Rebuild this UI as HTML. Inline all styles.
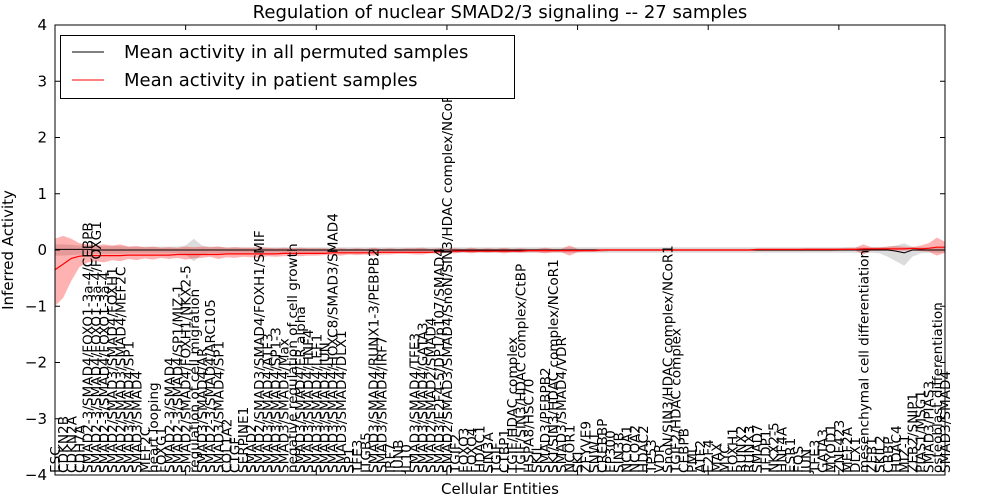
<!DOCTYPE html>
<html><head><meta charset="utf-8"><style>
body{margin:0;background:#fff;}
svg{display:block;font-family:"DejaVu Sans","Liberation Sans",sans-serif;}
</style></head><body>
<svg id="chart" width="1000" height="500" viewBox="0 0 1000 500">
<text x="500" y="18" font-size="18" text-anchor="middle">Regulation of nuclear SMAD2/3 signaling -- 27 samples</text>
<text x="500" y="494" font-size="15" text-anchor="middle">Cellular Entities</text>
<text transform="translate(13,250) rotate(-90)" font-size="15" text-anchor="middle">Inferred Activity</text>
<g id="plot"></g>
</svg>
<script>
const entities=["ESC","CDKN2B","CDKN2A","CDH7A","SMAD2-3/SMAD4/FOXO1-3a-4/CEBPB","SMAD2-3/SMAD4/FOXO1-3a-4/FOXG1","SMAD2-3/SMAD4/FOXO1-3a-4","SMAD2/SMAD3/SMAD4/FOXH1","SMAD2/SMAD3/SMAD4/MEF2C","SMAD3/SMAD4/SP1",
"SMAD3/SMAD4","MEF2C","heart looping","FOXG1","SMAD2-3/SMAD4","SMAD2-3/SMAD4/SP1/MIZ-1","SMAD2/SMAD4/FOXH1/NKX2-5","regulation of cell migration","SMAD3/SMAD4/AR","SMAD2-3/SMAD4/ARC105",
"SMAD3/SMAD4/SP1","COL1A2","CTGF","SERPINE1","SMAD2","SMAD2/SMAD3/SMAD4/FOXH1/SMIF","SMAD3/SMAD4/ATF3","SMAD3/SMAD4/SP1-3","SMAD3/SMAD4/Max","negative regulation of cell growth",
"SMAD3/SMAD4/ER alpha","SMAD3/SMAD4/HNF4","SMAD3/SMAD4/LEF1","SMAD3/SMAD4/JUN","SMAD3/SMAD4/HOXC8/SMAD3/SMAD4","SMAD3/SMAD4/DLX1","SP1","TFE3","ITGB5","SMAD3/SMAD4/RUNX1-3/PEBPB2",
"SMAD3/SMAD4/IRF7","IRF7","JUNB","IL10","SMAD3/SMAD4/TFE3","SMAD3/SMAD4/GATA3","SMAD2/SMAD2/SMAD4","SMAD3/E2F4-5/DP1/p107/SMAD4","SMAD2/SMAD3/SMAD4/SnoN/SIN3/HDAC complex/NCoR1","TGIF2",
"FOXO3","FOXO4","HDAC1","SIN3A","TGIF","CTBP1","TGIF/HDAC complex","TGIF/SIN3/HDAC complex/CtBP","HSPA8/HSC70","SKIL",
"SMAD3/PEBPB2","SKI/SIN3/HDAC complex/NCoR1","SMAD3/SMAD4/VDR","NCOR1","SKI","ZFYVE9","SNW1","CREBBP","EP300","SIN3B",
"NCOA1","NCOA2","HDAC2","TP53","VDR","SnoN/SIN3/HDAC complex/NCoR1","TGIF2/HDAC complex","CEBPB","PML","ATF2",
"E2F4","MAX","MYC","FOXH1","RUNX2","RUNX3","SMAD7","TFDP1","NKX2-5","HNF4A",
"ESR1","FOS","JUN","TFE3","GATA3","MYOD1","ZNF423","MEF2A","DLX1","mesenchymal cell differentiation",
"ZEB1","SKIL2","CBBP","HDAC4","MIZ-1","ZEB2/SNIP1","PIAS1/MSG1","SMAD3/PIAS3","osteoblast differentiation","SMAD3/SMAD4"];
const blackMean=[0.01,0.01,0.01,0.01,0.01,0,0,0,0,0,0,0,0,0,0,0,0,0,0,0,0,0,0,0,0,0,0,0,0,0,0,0,0,0,0,0,0,0,0,0,0,0,0,0,0,0,0,0,0,0,0,0,0,0,0,0,0,0,0,0,0,0,0,0,0,0,0,0,0,0,0,0,0,0,0,0,0,0,0,0,0,0,0,0,0,0,0,0,0,0,0,0,0,0,0,0,0,0,0,0,0,0,0,-0.02,-0.05,0,0,0,0,0];
const redMean=[-0.35,-0.25,-0.15,-0.11,-0.1,-0.1,-0.1,-0.1,-0.1,-0.09,-0.09,-0.09,-0.09,-0.09,-0.09,-0.08,-0.08,-0.08,-0.08,-0.08,-0.08,-0.07,-0.07,-0.07,-0.07,-0.07,-0.07,-0.07,-0.06,-0.06,-0.06,-0.06,-0.06,-0.06,-0.05,-0.05,-0.05,-0.05,-0.05,-0.05,-0.04,-0.04,-0.04,-0.04,-0.04,-0.04,-0.04,-0.03,-0.03,-0.02,-0.02,-0.02,-0.02,-0.02,-0.02,-0.02,-0.02,-0.02,-0.01,-0.01,-0.01,-0.01,-0.01,-0.01,-0.01,-0.01,-0.01,0,0,0,0,0,0,0,0,0,0,0,0,0,0,0,0,0,0,0,0.01,0.01,0.01,0.01,0.01,0.01,0.01,0.01,0.01,0.01,0.01,0.01,0.01,0.02,0.02,0.02,0.02,0.02,0.02,0.03,0.02,0.03,0.05,0.05];
const redHi=[0.2,0.25,0.2,0.12,0.1,0.08,0.1,0.08,0.1,0.06,0.07,0.05,0.06,0.04,0.05,0.04,0.06,0.05,0.06,0.05,0.06,0.04,0.05,0.04,0.04,0.05,0.04,0.03,0.04,0.03,0.04,0.03,0.03,0.03,0.02,0.03,0.02,0.03,0.02,0.04,0.02,0.03,0.02,0.03,0.03,0.04,0.02,0.03,0.02,0.03,0.02,0.04,0.02,0.03,0.02,0.04,0.02,0.03,0.02,0.02,0.04,0.02,0.02,0.08,0.02,0.02,0.02,0.02,0.02,0.02,0.02,0.02,0.02,0.02,0.02,0.02,0.02,0.02,0.02,0.02,0.02,0.02,0.02,0.02,0.02,0.02,0.02,0.02,0.02,0.02,0.02,0.02,0.03,0.03,0.03,0.03,0.03,0.04,0.04,0.1,0.05,0.05,0.06,0.07,0.06,0.05,0.08,0.12,0.22,0.15];
const redLo=[-1.0,-0.85,-0.55,-0.3,-0.22,-0.2,-0.22,-0.18,-0.2,-0.16,-0.18,-0.15,-0.17,-0.14,-0.16,-0.14,-0.17,-0.15,-0.14,-0.12,-0.16,-0.13,-0.14,-0.12,-0.13,-0.14,-0.11,-0.12,-0.11,-0.1,-0.11,-0.1,-0.1,-0.09,-0.09,-0.1,-0.08,-0.09,-0.08,-0.1,-0.08,-0.08,-0.07,-0.07,-0.08,-0.08,-0.06,-0.07,-0.05,-0.06,-0.04,-0.06,-0.04,-0.05,-0.04,-0.06,-0.04,-0.05,-0.04,-0.04,-0.06,-0.04,-0.04,-0.1,-0.04,-0.03,-0.03,-0.03,-0.02,-0.02,-0.02,-0.02,-0.02,-0.02,-0.02,-0.02,-0.02,-0.02,-0.02,-0.02,-0.02,-0.02,-0.02,-0.02,-0.02,-0.02,-0.02,-0.02,-0.02,-0.02,-0.02,-0.02,-0.02,-0.02,-0.02,-0.02,-0.01,-0.01,-0.01,-0.08,-0.01,-0.01,-0.01,-0.01,-0.01,-0.01,-0.02,-0.03,-0.1,-0.05];
const grayHi=[0.1,0.1,0.09,0.08,0.08,0.07,0.07,0.07,0.07,0.06,0.06,0.06,0.06,0.06,0.06,0.06,0.08,0.2,0.08,0.06,0.06,0.05,0.05,0.05,0.05,0.05,0.05,0.05,0.05,0.05,0.05,0.05,0.05,0.05,0.05,0.05,0.05,0.05,0.05,0.05,0.05,0.05,0.05,0.05,0.05,0.05,0.05,0.05,0.05,0.05,0.05,0.05,0.05,0.05,0.05,0.05,0.05,0.05,0.05,0.05,0.05,0.05,0.05,0.05,0.05,0.05,0.05,0.05,0.05,0.05,0.05,0.05,0.05,0.05,0.05,0.05,0.05,0.05,0.05,0.05,0.05,0.05,0.05,0.05,0.05,0.05,0.05,0.05,0.05,0.05,0.05,0.05,0.05,0.05,0.05,0.05,0.05,0.05,0.05,0.05,0.05,0.05,0.06,0.08,0.12,0.06,0.05,0.05,0.05,0.05];
const grayLo=[-0.1,-0.1,-0.09,-0.08,-0.08,-0.07,-0.07,-0.07,-0.07,-0.06,-0.06,-0.06,-0.06,-0.06,-0.06,-0.06,-0.08,-0.2,-0.08,-0.06,-0.06,-0.05,-0.05,-0.05,-0.05,-0.05,-0.05,-0.05,-0.05,-0.05,-0.05,-0.05,-0.05,-0.05,-0.05,-0.05,-0.05,-0.05,-0.05,-0.05,-0.05,-0.05,-0.05,-0.05,-0.05,-0.05,-0.05,-0.05,-0.05,-0.05,-0.05,-0.05,-0.05,-0.05,-0.05,-0.05,-0.05,-0.05,-0.05,-0.05,-0.05,-0.05,-0.05,-0.05,-0.05,-0.05,-0.05,-0.05,-0.05,-0.05,-0.05,-0.05,-0.05,-0.05,-0.05,-0.05,-0.05,-0.05,-0.05,-0.05,-0.05,-0.05,-0.05,-0.05,-0.05,-0.05,-0.05,-0.05,-0.05,-0.05,-0.05,-0.05,-0.05,-0.05,-0.05,-0.05,-0.05,-0.05,-0.05,-0.05,-0.05,-0.06,-0.12,-0.2,-0.28,-0.12,-0.06,-0.05,-0.05,-0.05];
const yTicks=[4,3,2,1,0,-1,-2,-3,-4];

const L=55,R=945,T=25,B=475,NS="http://www.w3.org/2000/svg";
const n=entities.length;
const xs=i=>L+i*(R-L)/(n-1);
const ys=v=>T+(4-v)*(B-T)/8;
const g=document.getElementById('plot');
function mk(tag,attrs,parent){const e=document.createElementNS(NS,tag);for(const k in attrs)e.setAttribute(k,attrs[k]);(parent||g).appendChild(e);return e;}
function band(hi,lo){let d='';for(let i=0;i<n;i++)d+=(i?'L':'M')+xs(i).toFixed(1)+','+ys(hi[i]).toFixed(1);for(let i=n-1;i>=0;i--)d+='L'+xs(i).toFixed(1)+','+ys(lo[i]).toFixed(1);return d+'Z';}
function line(a){let d='';for(let i=0;i<n;i++)d+=(i?'L':'M')+xs(i).toFixed(1)+','+ys(a[i]).toFixed(1);return d;}

const gb=mk('path',{d:band(grayHi,grayLo),fill:'rgba(128,128,128,0.28)',stroke:'none'});


const rb=mk('path',{d:band(redHi,redLo),fill:'rgba(255,0,0,0.3)',stroke:'none'});


const bl=mk('path',{d:line(blackMean),fill:'none',stroke:'#000','stroke-width':1});


const rl=mk('path',{d:line(redMean),fill:'none',stroke:'#f00','stroke-width':1.2});



for(let i=0;i<n;i++){
  const t=mk('text',{transform:`translate(${(xs(i)+5).toFixed(1)},${B-2}) rotate(-90)`,'font-size':13.6});
  t.textContent=entities[i];
  
  
}
const fr=mk('rect',{x:L,y:T,width:R-L,height:B-T,fill:'none',stroke:'#000','stroke-width':1});


yTicks.forEach(v=>{
  mk('line',{x1:L,x2:L+5,y1:ys(v),y2:ys(v),stroke:'#000'});
  mk('line',{x1:R,x2:R-5,y1:ys(v),y2:ys(v),stroke:'#000'});
  const t=mk('text',{x:L-8,y:ys(v)+5,'font-size':15,'text-anchor':'end'});
  t.textContent=String(v).replace('-','\u2212');
  
  
});
for(let i=0;i<n;i+=16){mk('line',{x1:xs(i),x2:xs(i),y1:T,y2:T+5,stroke:'#000'});mk('line',{x1:xs(i),x2:xs(i),y1:B,y2:B-5,stroke:'#000'});}
const lg=mk('g',{});


mk('rect',{x:60.5,y:35.5,width:454,height:63,fill:'#fff',stroke:'#000'},lg);
mk('line',{x1:72,x2:104,y1:52,y2:52,stroke:'#000'},lg);
mk('line',{x1:72,x2:104,y1:80,y2:80,stroke:'#f00'},lg);
const l1=mk('text',{x:124,y:58,'font-size':18},lg);l1.textContent='Mean activity in all permuted samples';


const l2=mk('text',{x:124,y:86,'font-size':18},lg);l2.textContent='Mean activity in patient samples';


</script>
</body></html>
